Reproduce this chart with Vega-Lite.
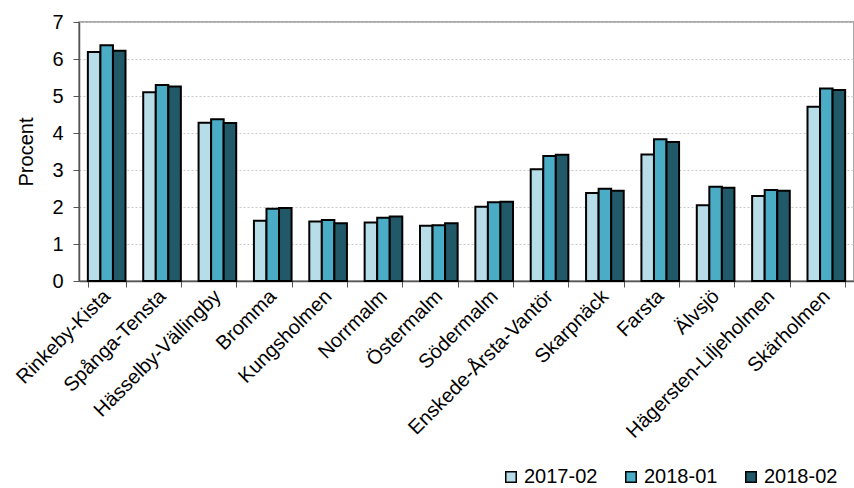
{
  "$schema": "https://vega.github.io/schema/vega-lite/v6.json",
  "autosize": {"type": "none"},
  "width": 775,
  "height": 259,
  "padding": {"left": 79, "top": 22, "right": 0, "bottom": 207},
  "background": "white",
  "config": {
    "font": "Liberation Sans",
    "view": {"stroke": "#8c8c8c", "strokeWidth": 1.5}
  },
  "data": {
    "values": [
      {"omr": "Rinkeby-Kista", "period": "2017-02", "v": 6.19},
      {"omr": "Rinkeby-Kista", "period": "2018-01", "v": 6.37},
      {"omr": "Rinkeby-Kista", "period": "2018-02", "v": 6.22},
      {"omr": "Spånga-Tensta", "period": "2017-02", "v": 5.10},
      {"omr": "Spånga-Tensta", "period": "2018-01", "v": 5.30},
      {"omr": "Spånga-Tensta", "period": "2018-02", "v": 5.26},
      {"omr": "Hässelby-Vällingby", "period": "2017-02", "v": 4.28},
      {"omr": "Hässelby-Vällingby", "period": "2018-01", "v": 4.37},
      {"omr": "Hässelby-Vällingby", "period": "2018-02", "v": 4.27},
      {"omr": "Bromma", "period": "2017-02", "v": 1.63},
      {"omr": "Bromma", "period": "2018-01", "v": 1.95},
      {"omr": "Bromma", "period": "2018-02", "v": 1.97},
      {"omr": "Kungsholmen", "period": "2017-02", "v": 1.61},
      {"omr": "Kungsholmen", "period": "2018-01", "v": 1.65},
      {"omr": "Kungsholmen", "period": "2018-02", "v": 1.56},
      {"omr": "Norrmalm", "period": "2017-02", "v": 1.58},
      {"omr": "Norrmalm", "period": "2018-01", "v": 1.71},
      {"omr": "Norrmalm", "period": "2018-02", "v": 1.74},
      {"omr": "Östermalm", "period": "2017-02", "v": 1.49},
      {"omr": "Östermalm", "period": "2018-01", "v": 1.51},
      {"omr": "Östermalm", "period": "2018-02", "v": 1.56},
      {"omr": "Södermalm", "period": "2017-02", "v": 2.01},
      {"omr": "Södermalm", "period": "2018-01", "v": 2.13},
      {"omr": "Södermalm", "period": "2018-02", "v": 2.14},
      {"omr": "Enskede-Årsta-Vantör", "period": "2017-02", "v": 3.02},
      {"omr": "Enskede-Årsta-Vantör", "period": "2018-01", "v": 3.38},
      {"omr": "Enskede-Årsta-Vantör", "period": "2018-02", "v": 3.41},
      {"omr": "Skarpnäck", "period": "2017-02", "v": 2.38},
      {"omr": "Skarpnäck", "period": "2018-01", "v": 2.49},
      {"omr": "Skarpnäck", "period": "2018-02", "v": 2.44},
      {"omr": "Farsta", "period": "2017-02", "v": 3.42},
      {"omr": "Farsta", "period": "2018-01", "v": 3.83},
      {"omr": "Farsta", "period": "2018-02", "v": 3.76},
      {"omr": "Älvsjö", "period": "2017-02", "v": 2.05},
      {"omr": "Älvsjö", "period": "2018-01", "v": 2.55},
      {"omr": "Älvsjö", "period": "2018-02", "v": 2.52},
      {"omr": "Hägersten-Liljeholmen", "period": "2017-02", "v": 2.30},
      {"omr": "Hägersten-Liljeholmen", "period": "2018-01", "v": 2.46},
      {"omr": "Hägersten-Liljeholmen", "period": "2018-02", "v": 2.44},
      {"omr": "Skärholmen", "period": "2017-02", "v": 4.71},
      {"omr": "Skärholmen", "period": "2018-01", "v": 5.20},
      {"omr": "Skärholmen", "period": "2018-02", "v": 5.16}
    ]
  },
  "mark": {"type": "bar", "stroke": "black", "strokeWidth": 2, "strokeJoin": "miter"},
  "encoding": {
    "x": {
      "field": "omr",
      "type": "nominal",
      "sort": null,
      "scale": {"paddingInner": 0.32, "paddingOuter": 0.16},
      "axis": {
        "title": null,
        "labelAngle": -45,
        "labelAlign": "right",
        "labelBaseline": "middle",
        "labelFontSize": 20,
        "labelColor": "black",
        "labelPadding": 6,
        "labelOverlap": false,
        "labelLimit": 400,
        "tickBand": "extent",
        "tickSize": 6,
        "tickColor": "#555",
        "domainColor": "#555",
        "domainWidth": 1.5
      }
    },
    "xOffset": {"field": "period", "type": "nominal", "scale": {"paddingInner": 0, "paddingOuter": 0}},
    "y": {
      "field": "v",
      "type": "quantitative",
      "scale": {"domain": [0, 7], "nice": false},
      "axis": {
        "title": "Procent",
        "titleFontSize": 20,
        "titleFontWeight": "normal",
        "titleColor": "black",
        "titlePadding": 15,
        "values": [0, 1, 2, 3, 4, 5, 6, 7],
        "labelFontSize": 20,
        "labelColor": "black",
        "labelPadding": 10,
        "tickSize": 6,
        "tickColor": "#555",
        "domainColor": "#555",
        "domainWidth": 1.5,
        "gridColor": "#c8c8c8",
        "gridDash": [2, 2],
        "gridWidth": 1
      }
    },
    "fill": {
      "field": "period",
      "type": "nominal",
      "scale": {"domain": ["2017-02", "2018-01", "2018-02"], "range": ["#b7dde8", "#4bacc6", "#215968"]},
      "legend": {
        "title": null,
        "orient": "none",
        "direction": "horizontal",
        "legendX": 422,
        "legendY": 445,
        "symbolType": "square",
        "symbolSize": 110,
        "symbolStrokeColor": "black",
        "symbolStrokeWidth": 1.5,
        "labelFontSize": 20,
        "labelColor": "black",
        "labelOffset": 3,
        "columnPadding": 23
      }
    }
  }
}
